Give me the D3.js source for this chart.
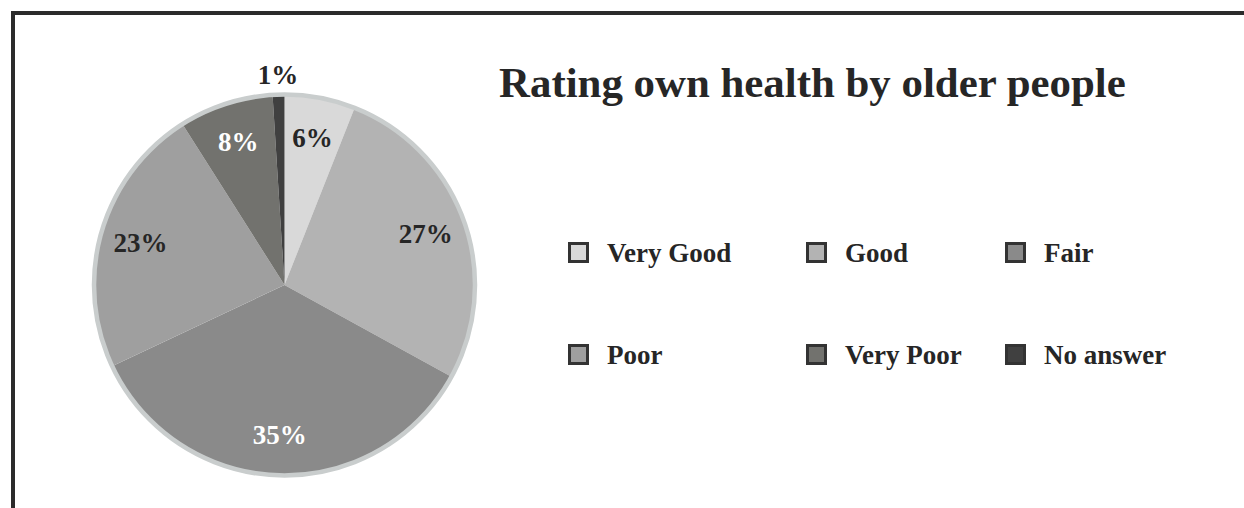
<!DOCTYPE html>
<html>
<head>
<meta charset="utf-8">
<script src="https://cdn.jsdelivr.net/npm/d3@7"></script>
<style>
html,body{margin:0;padding:0;background:#fff;}
svg{display:block;}
text{font-family:"Liberation Serif","Times New Roman",serif;font-weight:bold;}
</style>
</head>
<body>
<svg id="chart" width="1244" height="508"></svg>
<script>
// ---- data ----
const categories = ["Very Good", "Good", "Fair", "Poor", "Very Poor", "No answer"];
const values = [6, 27, 35, 23, 8, 1];
const valueLabels = ["6%", "27%", "35%", "23%", "8%", "1%"];
const title = "Rating own health by older people";

// ---- styles ----
const sliceColors = ["#d9d9d9", "#b3b3b3", "#8a8a8a", "#9f9f9f", "#72726e", "#404040"];
const labelInk = ["#262626", "#262626", "#ffffff", "#262626", "#ffffff", "#262626"];

const svg = d3.select("#chart");

// frame
svg.append("path")
  .attr("d", "M13,508 L13,13 L1244,13")
  .attr("fill", "none").attr("stroke", "#2b2b2b").attr("stroke-width", 4);

// pie
const cx = 284.5, cy = 285, R = 190;
const g = svg.append("g").attr("transform", `translate(${cx},${cy})`);
const pie = d3.pie().sort(null).value(d => d);
const arcs = pie(values);
const arc = d3.arc().innerRadius(0).outerRadius(R);
g.selectAll("path.slice").data(arcs).enter().append("path")
  .attr("class", "slice")
  .attr("d", arc)
  .attr("fill", (d, i) => sliceColors[i]);
g.append("circle").attr("r", R + 0.5).attr("fill", "none")
  .attr("stroke", "#c9cdcd").attr("stroke-width", 4.5);

const labelArc = d3.arc().innerRadius(150).outerRadius(150);
const outsideArc = d3.arc().innerRadius(210).outerRadius(210);
g.selectAll("text.lbl").data(arcs).enter().append("text")
  .attr("class", "lbl")
  .attr("text-anchor", "middle")
  .attr("font-size", 27)
  .attr("fill", (d, i) => labelInk[i])
  .attr("transform", (d, i) => {
    const a = (d.endAngle - d.startAngle) < 0.15 ? outsideArc : labelArc;
    const c = a.centroid(d);
    return `translate(${c[0]},${c[1] + 9})`;
  })
  .text((d, i) => valueLabels[i]);

// title
const t = svg.append("text")
  .attr("x", 499).attr("y", 97)
  .attr("font-size", 40)
  .attr("fill", "#262626")
  .text(title);
const tw = t.node().getComputedTextLength();
t.attr("font-size", 40 * 627 / tw);

// legend
const colX = [568, 806, 1005];
const rowY = [242, 344];
const lg = svg.append("g");
categories.forEach((c, i) => {
  const x = colX[i % 3], y = rowY[Math.floor(i / 3)];
  lg.append("rect")
    .attr("x", x + 1.5).attr("y", y + 1.5)
    .attr("width", 18).attr("height", 18)
    .attr("fill", sliceColors[i])
    .attr("stroke", "#333333").attr("stroke-width", 3);
  lg.append("text")
    .attr("x", x + 39).attr("y", y + 20)
    .attr("font-size", 27)
    .attr("fill", "#262626")
    .text(c);
});
</script>
</body>
</html>
